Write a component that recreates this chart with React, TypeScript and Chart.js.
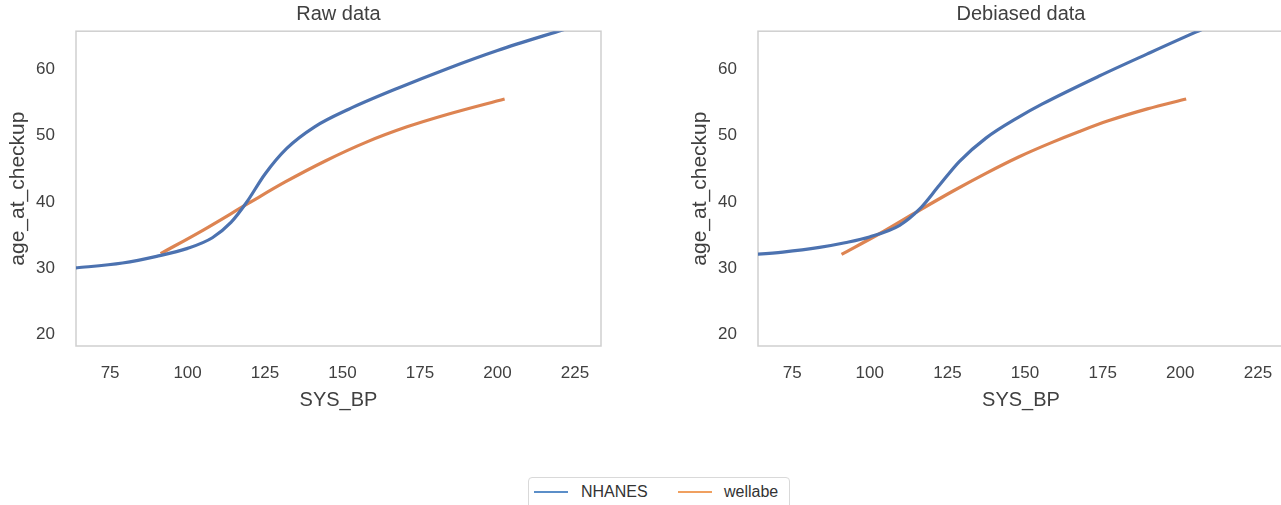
import React, { useEffect, useRef } from "react";
import { Chart, registerables } from "chart.js";

Chart.register(...registerables);

// ---- data ----
const xTicks = [75, 100, 125, 150, 175, 200, 225];
const yTicks = [20, 30, 40, 50, 60];

const rawNhanesX = [60, 64.4, 79, 90, 100, 108, 114, 119, 125, 132, 141, 152, 168, 184, 200, 219.7, 226];
const rawNhanesY = [29.9, 30.08, 30.8, 31.8, 33.0, 34.6, 36.9, 39.9, 44.2, 48.05, 51.3, 53.95, 57.15, 60.1, 62.8, 65.7, 66.6];

const rawWellabeX = [91.3, 105.2, 119.7, 131.5, 144.6, 157.7, 170.8, 184, 202.3];
const rawWellabeY = [32.2, 35.8, 39.8, 43.0, 46.2, 49.0, 51.3, 53.2, 55.5];

const debNhanesX = [60, 64, 72, 83.8, 92, 99.9, 109.6, 116.0, 122.4, 128.9, 137.4, 148.1, 155.6, 173.9, 189.4, 205, 212];
const debNhanesY = [32.0, 32.12, 32.44, 33.15, 33.85, 34.72, 36.47, 38.9, 42.5, 46.1, 49.6, 52.8, 54.75, 58.95, 62.28, 65.56, 66.96];

const debWellabeX = [90.9, 103.1, 114.4, 126.7, 137.4, 148.1, 158.9, 167.5, 176.8, 189.4, 201.9];
const debWellabeY = [32.1, 35.2, 38.3, 41.6, 44.3, 46.8, 49.0, 50.6, 52.2, 54.0, 55.5];

const seriesNames = ["NHANES", "wellabe"];
const titles = ["Raw data", "Debiased data"];

// ---- styles ----
const BLUE = "#4c72b0";
const ORANGE = "#dd8452";
const TEXT = "#404040";
const FONT = "'Liberation Sans', Arial, sans-serif";

const boxPlugin = {
  id: "box",
  beforeDatasetsDraw(chart: any) {
    const { ctx, chartArea } = chart;
    const { left, top, right, bottom } = chartArea;
    ctx.save();
    ctx.strokeStyle = "#cfcfcf";
    ctx.lineWidth = 1.5;
    ctx.strokeRect(left, top, right - left, bottom - top);
    ctx.restore();
  },
};

function toPts(xs: number[], ys: number[]) {
  return xs.map((x, i) => ({ x, y: ys[i] }));
}

function makeConfig(title: string, nX: number[], nY: number[], wX: number[], wY: number[]): any {
  return {
    type: "line",
    data: {
      datasets: [
        {
          label: seriesNames[0],
          data: toPts(nX, nY),
          borderColor: BLUE,
          backgroundColor: BLUE,
          borderWidth: 3.2,
          pointRadius: 0,
          cubicInterpolationMode: "monotone",
          fill: false,
        },
        {
          label: seriesNames[1],
          data: toPts(wX, wY),
          borderColor: ORANGE,
          backgroundColor: ORANGE,
          borderWidth: 3.2,
          pointRadius: 0,
          cubicInterpolationMode: "monotone",
          fill: false,
        },
      ],
    },
    options: {
      animation: false,
      responsive: false,
      maintainAspectRatio: false,
      layout: { padding: { left: 0, right: 39, top: 0, bottom: 0 } },
      plugins: {
        legend: { display: false },
        tooltip: { enabled: false },
        title: {
          display: true,
          fullSize: false,
          text: title,
          color: TEXT,
          font: { size: 20, weight: "normal", family: FONT },
          padding: { top: 2.5, bottom: 4.5 },
        },
      },
      scales: {
        x: {
          type: "linear",
          min: 64,
          max: 233.4,
          grid: { display: false, drawTicks: false },
          border: { display: false },
          ticks: { padding: 17, color: TEXT, font: { size: 17, family: FONT } },
          afterBuildTicks: (s: any) => {
            s.ticks = xTicks.map((v) => ({ value: v }));
          },
          afterFit: (s: any) => {
            s.height = 74;
          },
          title: {
            display: true,
            text: "SYS_BP",
            color: TEXT,
            font: { size: 20, family: FONT },
            padding: { top: 0, bottom: 8 },
          },
        },
        y: {
          type: "linear",
          min: 18.3,
          max: 65.7,
          grid: { display: false, drawTicks: false },
          border: { display: false },
          ticks: { padding: 21, color: TEXT, font: { size: 17, family: FONT } },
          afterBuildTicks: (s: any) => {
            s.ticks = yTicks.map((v) => ({ value: v }));
          },
          afterFit: (s: any) => {
            s.width = 76;
          },
          title: {
            display: true,
            text: "age_at_checkup",
            color: TEXT,
            font: { size: 21, family: FONT },
            padding: { top: 6, bottom: 0 },
          },
        },
      },
    },
    plugins: [boxPlugin],
  };
}

function Panel(props: { left: number; width: number; cfg: () => any }) {
  const ref = useRef<HTMLCanvasElement | null>(null);
  useEffect(() => {
    if (!ref.current) return;
    const chart = new Chart(ref.current, props.cfg());
    return () => chart.destroy();
  }, []);
  return (
    <canvas
      ref={ref}
      width={props.width}
      height={420}
      style={{ position: "absolute", left: props.left, top: 0, width: props.width, height: 420 }}
    />
  );
}

export default function App() {
  return (
    <div
      style={{
        position: "absolute",
        left: 0,
        top: 0,
        width: 1281,
        height: 505,
        overflow: "hidden",
        background: "#ffffff",
        fontFamily: FONT,
      }}
    >
      <Panel left={0} width={640} cfg={() => makeConfig(titles[0], rawNhanesX, rawNhanesY, rawWellabeX, rawWellabeY)} />
      <Panel left={682} width={641} cfg={() => makeConfig(titles[1], debNhanesX, debNhanesY, debWellabeX, debWellabeY)} />
      <div
        style={{
          position: "absolute",
          left: 528,
          top: 477,
          width: 262,
          height: 40,
          border: "1px solid #d9d9d9",
          borderRadius: 4,
          boxSizing: "border-box",
          background: "#fff",
        }}
      >
        <div style={{ position: "absolute", left: 5, top: 12.5, width: 34, height: 0, borderTop: "2.5px solid #5b8ec8" }} />
        <div style={{ position: "absolute", left: 52, top: 4, fontSize: 16, lineHeight: "20px", color: "#333" }}>{seriesNames[0]}</div>
        <div style={{ position: "absolute", left: 149, top: 12.5, width: 34, height: 0, borderTop: "2.5px solid #f0a060" }} />
        <div style={{ position: "absolute", left: 195, top: 4, fontSize: 16, lineHeight: "20px", color: "#333" }}>{seriesNames[1]}</div>
      </div>
    </div>
  );
}
